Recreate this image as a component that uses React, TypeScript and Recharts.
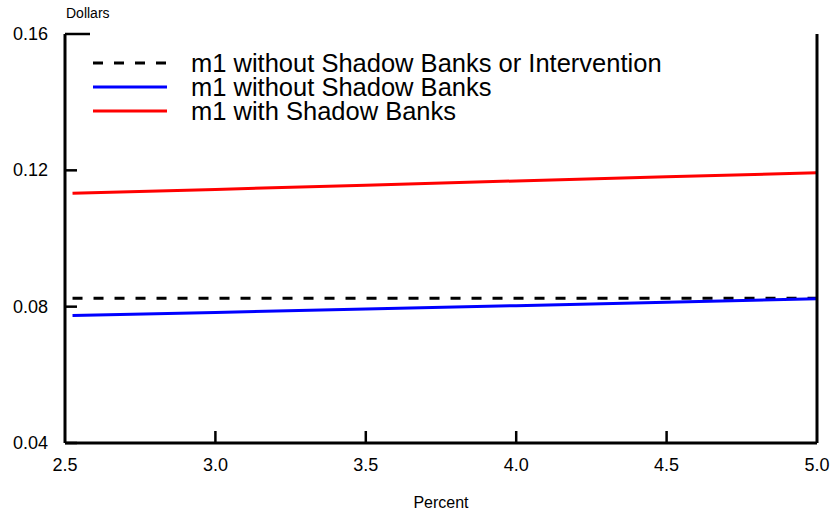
import React from 'react';
import { LineChart, Line, XAxis, YAxis, Legend } from 'recharts';

const percent = [2.525, 3.0, 3.5, 4.0, 4.5, 5.0];
const m1NoShadowNoIntervention = [0.0825, 0.0825, 0.0825, 0.0825, 0.0825, 0.0825];
const m1NoShadow = [0.0774, 0.0783, 0.0793, 0.0803, 0.0813, 0.0823];
const m1WithShadow = [0.1133, 0.1144, 0.1156, 0.1169, 0.1181, 0.1193];

const xTicks = [2.5, 3.0, 3.5, 4.0, 4.5, 5.0];
const yTicks = [0.04, 0.08, 0.12, 0.16];

const seriesNames = [
  'm1 without Shadow Banks or Intervention',
  'm1 without Shadow Banks',
  'm1 with Shadow Banks',
];
const seriesKeys = ['a', 'b', 'c'];
const seriesColors = ['#000000', '#0000ff', '#ff0000'];
const seriesDash = ['10 11', undefined, undefined];

const data = percent.map((p, i) => ({
  x: p,
  a: m1NoShadowNoIntervention[i],
  b: m1NoShadow[i],
  c: m1WithShadow[i],
}));

const FONT = '"Liberation Sans", Arial, Helvetica, sans-serif';

const LeftTick = (props: any) => {
  const { x, y, payload } = props;
  const len = payload.value === 0.16 ? 25 : 12;
  return (
    <g>
      <line x1={x + 17} x2={x + 17 + len} y1={y} y2={y} stroke="#000" strokeWidth={2.5} />
      <text x={x} y={y} dy={6} textAnchor="end" fontSize={18} fontFamily={FONT} fill="#000">
        {payload.value.toFixed(2)}
      </text>
    </g>
  );
};

const RightTick = (props: any) => {
  const { x, y, payload } = props;
  const len = payload.value === 0.16 ? 25 : 12;
  return (
    <g>
      <line x1={x - len} x2={x} y1={y} y2={y} stroke="#000" strokeWidth={2.5} />
    </g>
  );
};

const BottomTick = (props: any) => {
  const { x, y, payload } = props;
  const isEdge = payload.value === 2.5 || payload.value === 5.0;
  return (
    <g>
      {!isEdge && <line x1={x} x2={x} y1={y - 12} y2={y} stroke="#000" strokeWidth={2.5} />}
      <text x={x} y={y + 28} textAnchor="middle" fontSize={18} fontFamily={FONT} fill="#000">
        {payload.value.toFixed(1)}
      </text>
    </g>
  );
};

const LegendContent = () => (
  <div style={{ fontFamily: FONT }}>
    {seriesNames.map((n, i) => (
      <div key={n} style={{ display: 'flex', alignItems: 'center', height: 24 }}>
        <svg width={74} height={24} style={{ display: 'block' }}>
          <line
            x1={0}
            x2={74}
            y1={12}
            y2={12}
            stroke={seriesColors[i]}
            strokeWidth={3}
            strokeDasharray={seriesDash[i]}
          />
        </svg>
        <span style={{ marginLeft: 24, fontSize: 25.5, lineHeight: '24px', color: '#000', whiteSpace: 'nowrap' }}>
          {n}
        </span>
      </div>
    ))}
  </div>
);

export default function App() {
  return (
    <div style={{ position: 'absolute', left: 0, top: 0, width: 832, height: 516, background: '#fff' }}>
      <LineChart width={832} height={516} data={data} margin={{ top: 34, right: 0, bottom: 0, left: 0 }}>
        <XAxis
          dataKey="x"
          type="number"
          domain={[2.5, 5.0]}
          ticks={xTicks}
          height={73}
          tickSize={0}
          tickMargin={0}
          tickLine={false}
          axisLine={{ stroke: '#000', strokeWidth: 3 }}
          tick={<BottomTick />}
          interval={0}
          label={{
            content: (p: any) => {
              const vb = p.viewBox;
              return (
                <text x={vb.x + vb.width / 2} y={vb.y + 65} textAnchor="middle" fontSize={16} fontFamily={FONT} fill="#000">
                  Percent
                </text>
              );
            },
          }}
        />
        <YAxis
          yAxisId="l"
          orientation="left"
          type="number"
          domain={[0.04, 0.16]}
          ticks={yTicks}
          width={65}
          tickSize={0}
          tickMargin={17}
          tickLine={false}
          axisLine={{ stroke: '#000', strokeWidth: 3 }}
          tick={<LeftTick />}
          interval={0}
          label={{
            content: (p: any) => {
              const vb = p.viewBox;
              return (
                <text x={vb.x + vb.width + 1} y={vb.y - 16} textAnchor="start" fontSize={14} fontFamily={FONT} fill="#000">
                  Dollars
                </text>
              );
            },
          }}
        />
        <YAxis
          yAxisId="r"
          orientation="right"
          type="number"
          domain={[0.04, 0.16]}
          ticks={yTicks}
          width={15}
          tickSize={0}
          tickMargin={0}
          tickLine={false}
          axisLine={{ stroke: '#000', strokeWidth: 3 }}
          tick={<RightTick />}
          interval={0}
        />
        <Legend
          layout="horizontal"
          verticalAlign="middle"
          align="center"
          wrapperStyle={{ position: 'absolute', top: 51, left: 93, width: 'auto', height: 'auto' }}
          content={<LegendContent />}
        />
        {seriesKeys.map((k, i) => (
          <Line
            key={k}
            yAxisId="l"
            type="linear"
            dataKey={k}
            name={seriesNames[i]}
            stroke={seriesColors[i]}
            strokeWidth={3}
            strokeDasharray={seriesDash[i]}
            dot={false}
            activeDot={false}
            isAnimationActive={false}
          />
        ))}
      </LineChart>
    </div>
  );
}
